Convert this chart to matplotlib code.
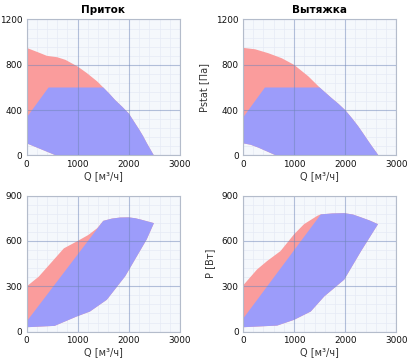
import matplotlib
matplotlib.use("Agg")
import matplotlib.pyplot as plt
from matplotlib.ticker import MultipleLocator

# --- data (Q in m3/h) ---
# Приток, static pressure
in_pres_red_q = [0, 0, 240, 400, 600, 760, 1000, 1180, 1380, 1500, 1620, 1730, 1870, 2000, 2100, 2200, 2280, 2350, 2420, 2490, 580]
in_pres_red_v = [108, 950, 908, 879, 867, 844, 785, 727, 654, 600, 545, 490, 430, 370, 300, 230, 170, 110, 55, 0, 0]
in_pres_blue_q = [0, 430, 1500, 1620, 1730, 1870, 2000, 2100, 2200, 2280, 2350, 2420, 2490, 580, 0]
in_pres_blue_v = [333, 600, 600, 545, 490, 430, 370, 300, 230, 170, 110, 55, 0, 0, 108]

# Вытяжка, static pressure
out_pres_red_q = [0, 0, 240, 500, 760, 1000, 1280, 1500, 1730, 1870, 2000, 2130, 2250, 2350, 2450, 2540, 2610, 2650, 650, 450, 300, 150]
out_pres_red_v = [108, 950, 937, 902, 858, 800, 698, 600, 508, 455, 400, 330, 260, 195, 128, 70, 26, 0, 0, 40, 70, 95]
out_pres_blue_q = [0, 430, 1500, 1730, 1870, 2000, 2130, 2250, 2350, 2450, 2540, 2610, 2650, 650, 450, 300, 150, 0]
out_pres_blue_v = [333, 600, 600, 508, 455, 400, 330, 260, 195, 128, 70, 26, 0, 0, 40, 70, 95, 108]

# Приток, power
in_pow_red_q = [0, 0, 240, 500, 730, 1000, 1210, 1380, 1500, 1670, 1830, 2000, 2130, 2250, 2380, 2490, 2350, 1930, 1570, 1240, 980, 550, 0]
in_pow_red_v = [26, 298, 364, 463, 551, 600, 640, 684, 733, 748, 755, 756, 750, 740, 728, 718, 611, 367, 211, 133, 100, 38, 29]
in_pow_blue_q = [0, 1500, 1670, 1830, 2000, 2130, 2250, 2380, 2490, 2350, 1930, 1570, 1240, 980, 550, 0]
in_pow_blue_v = [66, 733, 748, 755, 756, 750, 740, 728, 718, 611, 367, 211, 133, 100, 38, 29]

# Вытяжка, power
out_pow_red_q = [0, 0, 276, 473, 735, 1000, 1195, 1457, 1523, 1750, 1980, 2150, 2310, 2480, 2640, 2310, 1980, 1590, 1326, 1000, 670, 0]
out_pow_red_v = [29, 304, 411, 467, 533, 644, 711, 767, 776, 782, 784, 775, 756, 735, 711, 533, 344, 233, 133, 78, 40, 29]
out_pow_blue_q = [0, 1523, 1750, 1980, 2150, 2310, 2480, 2640, 2310, 1980, 1590, 1326, 1000, 670, 0]
out_pow_blue_v = [84, 776, 782, 784, 775, 756, 735, 711, 533, 344, 233, 133, 78, 40, 29]

titles = ["Приток", "Вытяжка"]
xlabel = "Q [м³/ч]"
ylabels = ["Pstat [Па]", "P [Вт]"]

RED = "#fa9c9c"
BLUE = "#9c9cfa"
GRID = "#6f86b8"

plt.rcParams["font.family"] = ["DejaVu Sans"]

fig = plt.figure(figsize=(4.11, 3.61), dpi=100)
fig.patch.set_facecolor("white")

w, h = 0.3735, 0.3767
boxes = [
    (0.0645, 0.5693), (0.591, 0.5693),
    (0.0645, 0.0814), (0.591, 0.0814),
]
panels = [
    (in_pres_red_q, in_pres_red_v, in_pres_blue_q, in_pres_blue_v),
    (out_pres_red_q, out_pres_red_v, out_pres_blue_q, out_pres_blue_v),
    (in_pow_red_q, in_pow_red_v, in_pow_blue_q, in_pow_blue_v),
    (out_pow_red_q, out_pow_red_v, out_pow_blue_q, out_pow_blue_v),
]

for i, ((l, b), (rq, rv, bq, bv)) in enumerate(zip(boxes, panels)):
    ax = fig.add_axes([l, b, w, h])
    ax.set_facecolor("#f5f8fc")
    ax.fill(rq, rv, color=RED, lw=0, zorder=1)
    ax.fill(bq, bv, color=BLUE, lw=0, zorder=1.1)

    ymax = 1200 if i < 2 else 900
    ax.xaxis.set_major_locator(MultipleLocator(1000))
    ax.xaxis.set_minor_locator(MultipleLocator(200))
    ax.yaxis.set_major_locator(MultipleLocator(ymax / 3))
    ax.yaxis.set_minor_locator(MultipleLocator(ymax / 15))
    ax.set_xlim(0, 3000)
    ax.set_ylim(0, ymax)

    # faint minor grid under the fills, major grid drawn over them
    ax.set_axisbelow(True)
    ax.grid(which="minor", color="#e6ebf5", lw=0.5)
    for v in ax.get_xticks():
        ax.axvline(v, color=GRID, alpha=0.5, lw=0.8, zorder=2)
    for v in ax.get_yticks():
        ax.axhline(v, color=GRID, alpha=0.5, lw=0.8, zorder=2)
    ax.set_xlim(0, 3000)
    ax.set_ylim(0, ymax)

    for s in ax.spines.values():
        s.set_color("#b4bccb")
        s.set_linewidth(0.8)
        s.set_zorder(3)
    ax.tick_params(which="both", length=0, labelsize=6.4, colors="#111111", pad=3)
    ax.tick_params(which="minor", labelbottom=False, labelleft=False)

    ax.set_xlabel(xlabel, fontsize=7, color="#333333", labelpad=2)
    if i < 2:
        ax.set_title(titles[i], fontsize=7.5, fontweight="bold", pad=5)
    if i % 2 == 1:
        ax.set_ylabel(ylabels[i // 2], fontsize=7, color="#333333", labelpad=5)

fig.savefig("out.png", dpi=100)
